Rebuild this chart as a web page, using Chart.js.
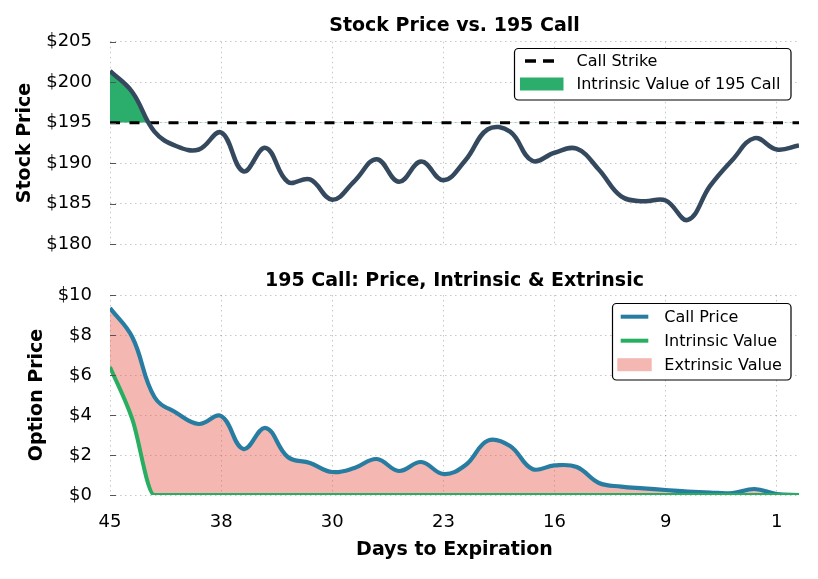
<!DOCTYPE html>
<html>
<head>
<meta charset="utf-8">
<script src="https://cdn.jsdelivr.net/npm/chart.js@4.4.1/dist/chart.umd.min.js"></script>
<style>
  html, body { margin: 0; padding: 0; background: #fff; }
  #wrap { position: relative; width: 818px; height: 579px; }
  .panel { position: absolute; left: 0; width: 818px; }
  #topPanel { top: 0; height: 273px; }
  #bottomPanel { top: 260px; height: 319px; }
  canvas { display: block; }
</style>
</head>
<body>
<div id="wrap">
  <div class="panel" id="topPanel"><canvas id="priceChart" width="818" height="273"></canvas></div>
  <div class="panel" id="bottomPanel"><canvas id="optionChart" width="818" height="319"></canvas></div>
</div>
<script>
// shared x axis: 32 trading points, a label every 5th point
const dayTickIndex = [0, 5, 10, 15, 20, 25, 30];
const dayTickLabels = ['45', '38', '30', '23', '16', '9', '1'];

const strike = 195;

const stockPrice = [
    201.4, 198.8, 193.9, 192.1, 191.7, 193.8, 189.0, 191.9,
    187.7, 188.0, 185.5, 187.8, 190.5, 187.7, 190.2, 187.9,
    190.4, 194.2, 193.9, 190.3, 191.3, 191.8, 189.2, 185.9,
    185.3, 185.4, 183.0, 187.2, 190.4, 193.1, 191.7, 192.2
];

const callPrice = [
    9.35, 7.9, 4.9, 4.1, 3.55, 3.95, 2.3, 3.35,
    1.9, 1.6, 1.15, 1.35, 1.8, 1.2, 1.65, 1.05,
    1.5, 2.72, 2.45, 1.3, 1.48, 1.4, 0.6, 0.42,
    0.33, 0.25, 0.17, 0.12, 0.1, 0.3, 0.05, 0
];

const intrinsicValue = [
    6.4, 3.8, 0, 0, 0, 0, 0, 0,
    0, 0, 0, 0, 0, 0, 0, 0,
    0, 0, 0, 0, 0, 0, 0, 0,
    0, 0, 0, 0, 0, 0, 0, 0
];

const stockTicks = [180, 185, 190, 195, 200, 205];
const optionTicks = [0, 2, 4, 6, 8, 10];

const priceLegendLabels = ['Call Strike', 'Intrinsic Value of 195 Call'];
const optionLegendLabels = ['Call Price', 'Intrinsic Value', 'Extrinsic Value'];

const COLORS = {
    stock: '#34495e',
    call: '#277da1',
    green: '#27ae60',
    greenFill: '#2bae6c',
    extrinsic: 'rgba(231, 76, 60, 0.4)',
    grid: 'rgba(0, 0, 0, 0.22)'
};

Chart.defaults.font.family = "'DejaVu Sans', sans-serif";
Chart.defaults.color = '#000';

const points = arr => arr.map((v, i) => ({ x: i, y: v }));

/**
 * Small inward tick marks on the left edge of the plot
 */
const innerTicks = {
    id: 'innerTicks',
    afterDraw(chart) {
        const { ctx, chartArea } = chart;
        const yScale = chart.scales.y;
        ctx.save();
        ctx.strokeStyle = '#555';
        ctx.lineWidth = 1;
        yScale.ticks.forEach(t => {
            const py = Math.round(yScale.getPixelForValue(t.value)) + 0.5;
            ctx.beginPath();
            ctx.moveTo(chartArea.left, py);
            ctx.lineTo(chartArea.left + 6, py);
            ctx.stroke();
        });
        ctx.restore();
    }
};

/**
 * Framed legend drawn inside the plot
 */
const boxLegend = {
    id: 'boxLegend',
    afterDraw(chart, args, opts) {
        if (!opts || !opts.items) return;
        const ctx = chart.ctx;
        ctx.save();
        ctx.fillStyle = '#fff';
        ctx.strokeStyle = '#000';
        ctx.lineWidth = 1.2;
        ctx.beginPath();
        ctx.roundRect(opts.x, opts.y, opts.width, opts.height, 4);
        ctx.fill();
        ctx.stroke();

        ctx.font = "16px 'DejaVu Sans', sans-serif";
        ctx.textBaseline = 'middle';
        ctx.textAlign = 'left';
        opts.items.forEach((item, i) => {
            const cy = opts.y + opts.firstRow + i * opts.rowGap;
            if (item.type === 'patch') {
                ctx.fillStyle = item.color;
                ctx.fillRect(opts.patchX, cy - 6.5, opts.patchW, 13);
            } else {
                ctx.strokeStyle = item.color;
                ctx.lineWidth = item.width || 4;
                ctx.setLineDash(item.dash || []);
                ctx.beginPath();
                ctx.moveTo(opts.lineX, cy);
                ctx.lineTo(opts.lineX + opts.lineW, cy);
                ctx.stroke();
                ctx.setLineDash([]);
            }
            ctx.fillStyle = '#000';
            ctx.fillText(item.label, opts.textX, cy + 1);
        });
        ctx.restore();
    }
};

function dayAxis(showLabels, axisHeight) {
    return {
        type: 'linear',
        min: 0,
        max: stockPrice.length - 1,
        afterBuildTicks: axis => { axis.ticks = dayTickIndex.map(v => ({ value: v })); },
        afterFit: scale => { scale.height = axisHeight; },
        grid: { color: COLORS.grid, lineWidth: 1, drawTicks: false },
        border: { display: false, dash: [1.5, 3.5] },
        ticks: {
            display: showLabels,
            padding: 17,
            font: { size: 18 },
            callback: v => dayTickLabels[dayTickIndex.indexOf(v)]
        },
        title: {
            display: showLabels,
            text: 'Days to Expiration',
            font: { size: 19, weight: 'bold' },
            padding: { top: 0, bottom: 17.6 }
        }
    };
}

function valueAxis(min, max, tickValues, label, titlePad) {
    return {
        min: min,
        max: max,
        afterBuildTicks: axis => { axis.ticks = tickValues.map(v => ({ value: v })); },
        afterFit: scale => { scale.width = 110; },
        grid: { color: COLORS.grid, lineWidth: 1, drawTicks: false },
        border: { display: false, dash: [1.5, 3.5] },
        ticks: { padding: 18, font: { size: 18 }, callback: v => '$' + v },
        title: {
            display: true,
            text: label,
            font: { size: 19, weight: 'bold' },
            padding: { top: titlePad, bottom: 0 }
        }
    };
}

// === TOP PANEL: stock price vs strike ===
new Chart(document.getElementById('priceChart'), {
    type: 'line',
    data: {
        datasets: [
            {
                label: priceLegendLabels[0],
                data: [{ x: 0, y: strike }, { x: stockPrice.length - 1, y: strike }],
                borderColor: '#000',
                borderWidth: 3.2,
                borderDash: [10, 9.5],
                pointRadius: 0,
                fill: false,
                order: 1
            },
            {
                label: 'Stock Price',
                data: points(stockPrice),
                borderColor: COLORS.stock,
                borderWidth: 4.5,
                pointRadius: 0,
                tension: 0.4,
                fill: { target: { value: strike }, above: COLORS.greenFill, below: 'rgba(0,0,0,0)' },
                order: 0
            }
        ]
    },
    options: {
        responsive: false,
        animation: false,
        layout: { padding: { left: 0, right: 19, top: 0, bottom: 0 } },
        scales: {
            x: dayAxis(false, 0),
            y: valueAxis(180, 205, stockTicks, 'Stock Price', 13.6)
        },
        plugins: {
            legend: { display: false },
            tooltip: { enabled: false },
            filler: { drawTime: 'beforeDatasetsDraw' },
            title: {
                display: true,
                text: 'Stock Price vs. 195 Call',
                fullSize: false,
                font: { size: 19, weight: 'bold' },
                color: '#000',
                padding: { top: 15, bottom: 4 }
            },
            boxLegend: {
                x: 514.5, y: 48.5, width: 276.5, height: 51.5,
                firstRow: 12.5, rowGap: 23,
                lineX: 525, lineW: 30, patchX: 520, patchW: 43.5, textX: 576.5,
                items: [
                    { label: priceLegendLabels[0], type: 'line', color: '#000', width: 3.3, dash: [11, 7] },
                    { label: priceLegendLabels[1], type: 'patch', color: COLORS.greenFill }
                ]
            }
        }
    },
    plugins: [innerTicks, boxLegend]
});

// === BOTTOM PANEL: call price, intrinsic & extrinsic ===
new Chart(document.getElementById('optionChart'), {
    type: 'line',
    data: {
        datasets: [
            {
                label: optionLegendLabels[0],
                data: points(callPrice),
                borderColor: COLORS.call,
                backgroundColor: COLORS.extrinsic,
                borderWidth: 4.2,
                pointRadius: 0,
                tension: 0.4,
                fill: '+1',
                order: 1
            },
            {
                label: optionLegendLabels[1],
                data: points(intrinsicValue),
                borderColor: COLORS.green,
                borderWidth: 4,
                pointRadius: 0,
                cubicInterpolationMode: 'monotone',
                fill: false,
                order: 0
            }
        ]
    },
    options: {
        responsive: false,
        animation: false,
        layout: { padding: { left: 0, right: 19, top: 0, bottom: 0 } },
        scales: {
            x: dayAxis(true, 84),
            y: valueAxis(0, 10, optionTicks, 'Option Price', 25.6)
        },
        plugins: {
            legend: { display: false },
            tooltip: { enabled: false },
            filler: { drawTime: 'beforeDatasetsDraw' },
            title: {
                display: true,
                text: '195 Call: Price, Intrinsic & Extrinsic',
                fullSize: false,
                font: { size: 19, weight: 'bold' },
                color: '#000',
                padding: { top: 10, bottom: 2.2 }
            },
            boxLegend: {
                x: 612.5, y: 43.5, width: 178.5, height: 76.5,
                firstRow: 13.2, rowGap: 24,
                lineX: 620.7, lineW: 27.6, patchX: 617.3, patchW: 34.4, textX: 664.3,
                items: [
                    { label: optionLegendLabels[0], type: 'line', color: COLORS.call, width: 4 },
                    { label: optionLegendLabels[1], type: 'line', color: COLORS.green, width: 4 },
                    { label: optionLegendLabels[2], type: 'patch', color: COLORS.extrinsic }
                ]
            }
        }
    },
    plugins: [innerTicks, boxLegend]
});
</script>
</body>
</html>
